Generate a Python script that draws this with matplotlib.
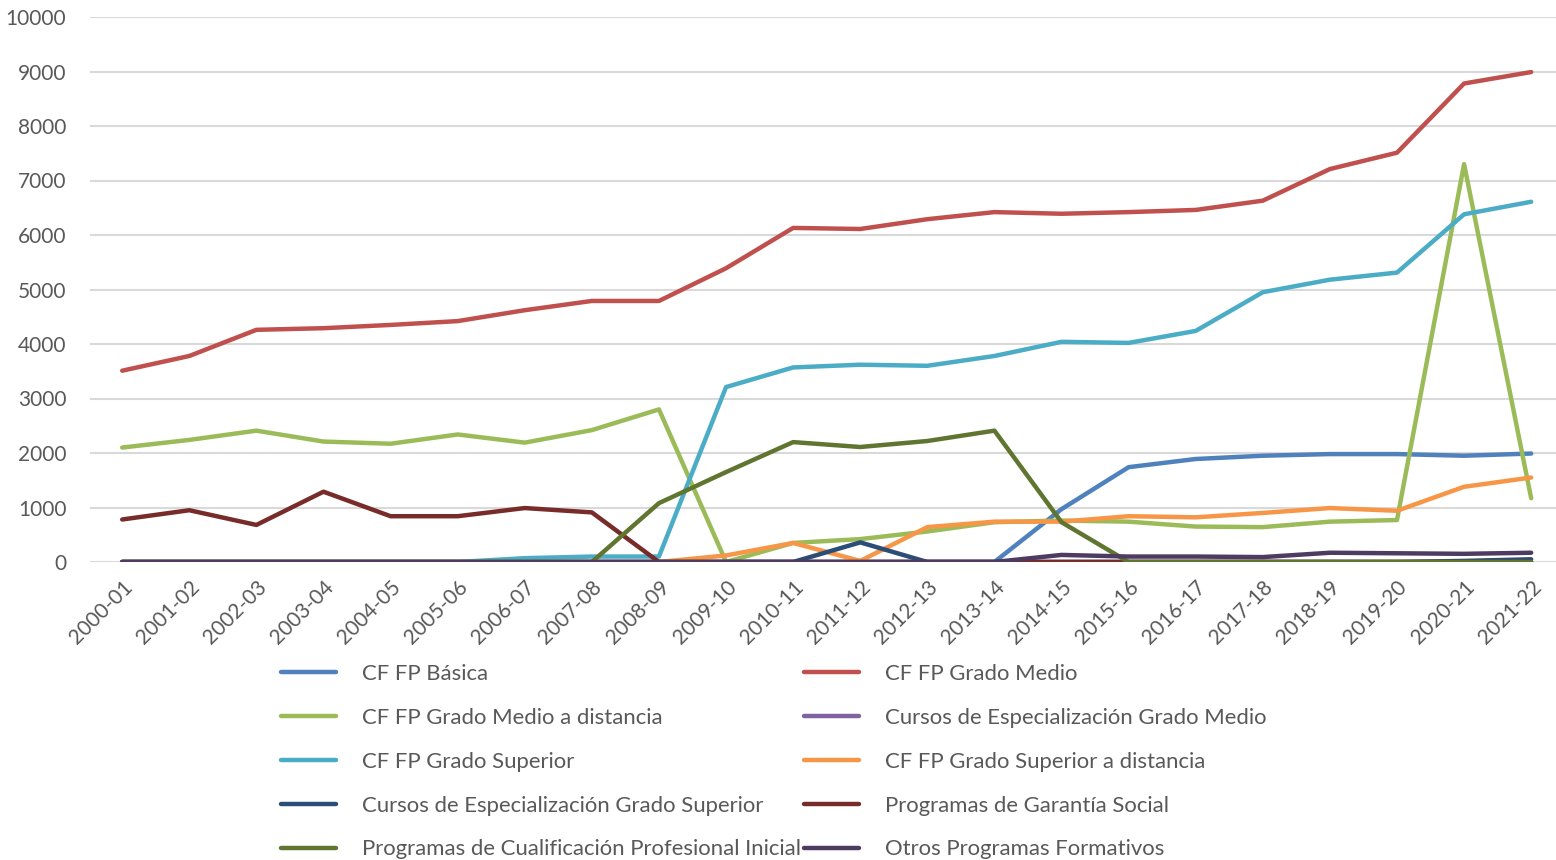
import numpy as np
import matplotlib
matplotlib.use("Agg")
import matplotlib.pyplot as plt

plt.rcParams['font.family'] = ['Lato', 'DejaVu Sans']

# Curso académico
cursos = ['2000-01', '2001-02', '2002-03', '2003-04', '2004-05', '2005-06',
          '2006-07', '2007-08', '2008-09', '2009-10', '2010-11', '2011-12',
          '2012-13', '2013-14', '2014-15', '2015-16', '2016-17', '2017-18',
          '2018-19', '2019-20', '2020-21', '2021-22']

# Alumnado por enseñanza
fp_basica = [0, 0, 0, 0, 0, 0, 0, 0, 0, 0, 0, 0, 0, 0,
             970, 1740, 1890, 1950, 1980, 1980, 1950, 1990]
grado_medio = [3510, 3780, 4260, 4290, 4350, 4420, 4620, 4790, 4790, 5390, 6130,
               6110, 6290, 6420, 6390, 6420, 6460, 6630, 7210, 7510, 8780, 8990]
gm_distancia = [2100, 2240, 2410, 2210, 2170, 2340, 2190, 2420, 2800, 0, 350,
                420, 560, 730, 760, 740, 650, 640, 740, 770, 7300, 1170]
ce_grado_medio = [0] * 22
grado_superior = [0, 0, 0, 0, 0, 0, 70, 100, 100, 3210, 3570, 3620, 3600, 3780,
                  4040, 4020, 4240, 4950, 5180, 5310, 6380, 6610]
gs_distancia = [0, 0, 0, 0, 0, 0, 0, 0, 0, 120, 350, 20, 640, 740,
                740, 840, 820, 900, 990, 940, 1380, 1550]
ce_grado_superior = [0, 0, 0, 0, 0, 0, 0, 0, 0, 0, 0, 360, 0, 0,
                     0, 0, 0, 0, 0, 0, 20, 50]
garantia_social = [780, 950, 680, 1290, 840, 840, 990, 910, 0, 0, 0, 0, 0, 0,
                   0, 0, 0, 0, 0, 0, 0, 0]
pcpi = [0, 0, 0, 0, 0, 0, 0, 0, 1080, 1650, 2200, 2110, 2220, 2410,
        730, 0, 0, 0, 0, 0, 0, 0]
otros = [0, 0, 0, 0, 0, 0, 0, 0, 0, 0, 0, 0, 0, 0,
         130, 100, 100, 90, 170, 160, 150, 170]

series = [
    ('CF FP Básica', fp_basica, '#4F81BD'),
    ('CF FP Grado Medio', grado_medio, '#C0504D'),
    ('CF FP Grado Medio a distancia', gm_distancia, '#9BBB59'),
    ('Cursos de Especialización Grado Medio', ce_grado_medio, '#8064A2'),
    ('CF FP Grado Superior', grado_superior, '#4BACC6'),
    ('CF FP Grado Superior a distancia', gs_distancia, '#F79646'),
    ('Cursos de Especialización Grado Superior', ce_grado_superior, '#2C4D75'),
    ('Programas de Garantía Social', garantia_social, '#772C2A'),
    ('Programas de Cualificación Profesional Inicial', pcpi, '#5F7530'),
    ('Otros Programas Formativos', otros, '#4D3B62'),
]

fig = plt.figure(figsize=(15.56, 8.6), dpi=100)
ax = fig.add_axes([90 / 1556, 1 - 562 / 860, 1 - 90 / 1556, (562 - 17) / 860])

x = np.arange(len(cursos))
lines = []
for name, vals, col in series:
    ln, = ax.plot(x, vals, color=col, lw=3.2, solid_capstyle='round',
                  solid_joinstyle='round', label=name)
    lines.append(ln)

ax.set_ylim(0, 10000)
ax.set_xlim(-0.48, 21.37)
ax.set_yticks(np.arange(0, 10001, 1000))
ax.yaxis.grid(True, color='#D9D9D9', lw=1.5)
ax.set_axisbelow(True)
for s in ax.spines.values():
    s.set_visible(False)
ax.tick_params(axis='both', length=0, colors='#595959', labelsize=15)
ax.tick_params(axis='y', pad=17)
ax.set_xticks(x)
ax.set_xticklabels(cursos, rotation=45, ha='right', va='top',
                   rotation_mode='anchor')
ax.tick_params(axis='x', pad=11)

# Leyenda en dos columnas (dos leyendas para fijar la posición de cada columna)
kw = dict(frameon=False, fontsize=15.9, handlelength=2.5, handletextpad=1.15,
          labelspacing=1.08, borderpad=0, borderaxespad=0, labelcolor='#595959',
          loc='upper left')
fig.legend(lines[0::2], [l.get_label() for l in lines[0::2]],
           bbox_to_anchor=(281 / 1556, 1 - 664 / 860), **kw)
fig.legend(lines[1::2], [l.get_label() for l in lines[1::2]],
           bbox_to_anchor=(804 / 1556, 1 - 664 / 860), **kw)

fig.savefig('out.png', dpi=100)
